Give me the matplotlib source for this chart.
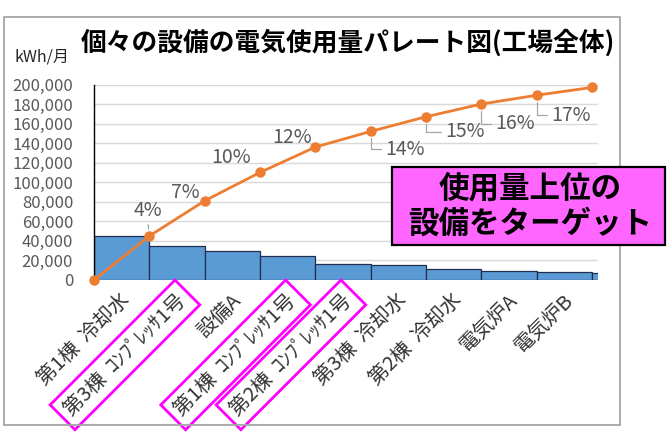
import matplotlib
matplotlib.use("Agg")
import matplotlib.pyplot as plt
from matplotlib.patches import Rectangle

plt.rcParams['font.family'] = ['Noto Sans CJK JP', 'DejaVu Sans']

# ---- data ----
categories = ["第1棟  冷却水", "第3棟  ｺﾝﾌﾟﾚｯｻ1号", "設備A", "第1棟  ｺﾝﾌﾟﾚｯｻ1号",
              "第2棟  ｺﾝﾌﾟﾚｯｻ1号", "第3棟  冷却水", "第2棟  冷却水", "電気炉A", "電気炉B", ""]
usage = [45000, 35000, 30000, 24500, 16500, 15000, 11500, 9500, 8500, 7500]
cumulative = [0, 45000, 81000, 110000, 136000, 152000, 167000, 180000, 189000, 197000]
pct_labels = ["4%", "7%", "10%", "12%", "14%", "15%", "16%", "17%"]
highlighted = ["第3棟  ｺﾝﾌﾟﾚｯｻ1号", "第1棟  ｺﾝﾌﾟﾚｯｻ1号", "第2棟  ｺﾝﾌﾟﾚｯｻ1号"]
yticks = [0, 20000, 40000, 60000, 80000, 100000, 120000, 140000, 160000, 180000, 200000]

# label placement (pixel offsets from points)
pct_offsets = [(-1.5, 26), (-19.5, 8), (-28.5, 15), (-23, 10),
               (34, -18), (39, -15), (34, -19.5), (34, -20)]

W, H = 670, 433
fig = plt.figure(figsize=(W / 100, H / 100), dpi=100)
ax = fig.add_axes([94 / W, 1 - 280 / H, (598 - 94) / W, (280 - 84.5) / H])

# frame
fig.patches.append(Rectangle((4 / W, 1 - 425 / H), (620 - 4) / W, (425 - 17) / H,
                             transform=fig.transFigure, fill=False,
                             ec='#A6A6A6', lw=1.3, zorder=0))

xs = list(range(len(usage)))
ax.bar(xs, usage, width=1.0, align='edge', color='#5B9BD5',
       edgecolor='#1F2F4F', linewidth=0.9, zorder=2)

cx = list(range(len(cumulative)))
ax.plot(cx, cumulative, color='#ED7D31', lw=2.0, marker='o', markersize=6.5,
        clip_on=False, zorder=4)

ax.set_xlim(0, 9.11)
ax.set_ylim(0, 200000)
ax.set_yticks(yticks)
ax.set_yticklabels([f"{v:,}" for v in yticks])
ax.tick_params(axis='y', length=0, pad=15, labelsize=12, labelcolor='#595959')
ax.set_xticks([])
ax.grid(axis='y', color='#D9D9D9', lw=1.0, zorder=0)
ax.set_axisbelow(True)
for s in ['top', 'right', 'bottom']:
    ax.spines[s].set_visible(False)
ax.spines['left'].set_color('black')
ax.spines['left'].set_linewidth(1.0)

# percentage labels
for i, (lab, (dx, dy)) in enumerate(zip(pct_labels, pct_offsets)):
    k = i + 1
    kw = {}
    if dx > 0:
        kw = dict(arrowprops=dict(arrowstyle='-', color='#A6A6A6', lw=0.9,
                                  connectionstyle='angle,angleA=0,angleB=90,rad=0',
                                  relpos=(0, 0.5), shrinkA=1, shrinkB=5))
    elif i == 0:
        kw = dict(arrowprops=dict(arrowstyle='-', color='#A6A6A6', lw=0.9,
                                  relpos=(0.5, 0.0), shrinkA=1, shrinkB=5))
    ax.annotate(lab, xy=(k, cumulative[k]), xytext=(dx, dy), textcoords='offset pixels',
                ha='center', va='center', fontsize=14, color='#595959',
                annotation_clip=False, zorder=5, **kw)

# x category labels
for i, lab in enumerate(categories):
    if not lab:
        continue
    bb = None
    if lab in highlighted:
        bb = dict(boxstyle='square,pad=0.35', fc='none', ec='#FF00FF', lw=2.0)
    ax.annotate(lab, xy=(i + 0.5, 0), xycoords=('data', 'axes fraction'),
                xytext=(-2, -10), textcoords='offset pixels', rotation=45,
                rotation_mode='anchor', ha='right', va='top', fontsize=14.5,
                color='#333333', bbox=bb, annotation_clip=False)

# title and unit
fig.text(348 / W, 1 - 43 / H, "個々の設備の電気使用量パレート図(工場全体)",
         ha='center', va='center', fontsize=18.5, fontweight='bold', color='black')
fig.text(42 / W, 1 - 57 / H, "kWh/月", ha='center', va='center', fontsize=11.5,
         color='#262626')

# callout box
fig.patches.append(Rectangle((392 / W, 1 - 245 / H), (665 - 392) / W, (245 - 167) / H,
                             transform=fig.transFigure, fc='#FF66FF', ec='black',
                             lw=1.6, zorder=6))
fig.text(530 / W, 1 - 206 / H, "使用量上位の\n設備をターゲット", ha='center', va='center',
         multialignment='center', fontsize=22, fontweight='bold', color='black',
         linespacing=1.15, zorder=7)

fig.savefig("out.png", dpi=100)
